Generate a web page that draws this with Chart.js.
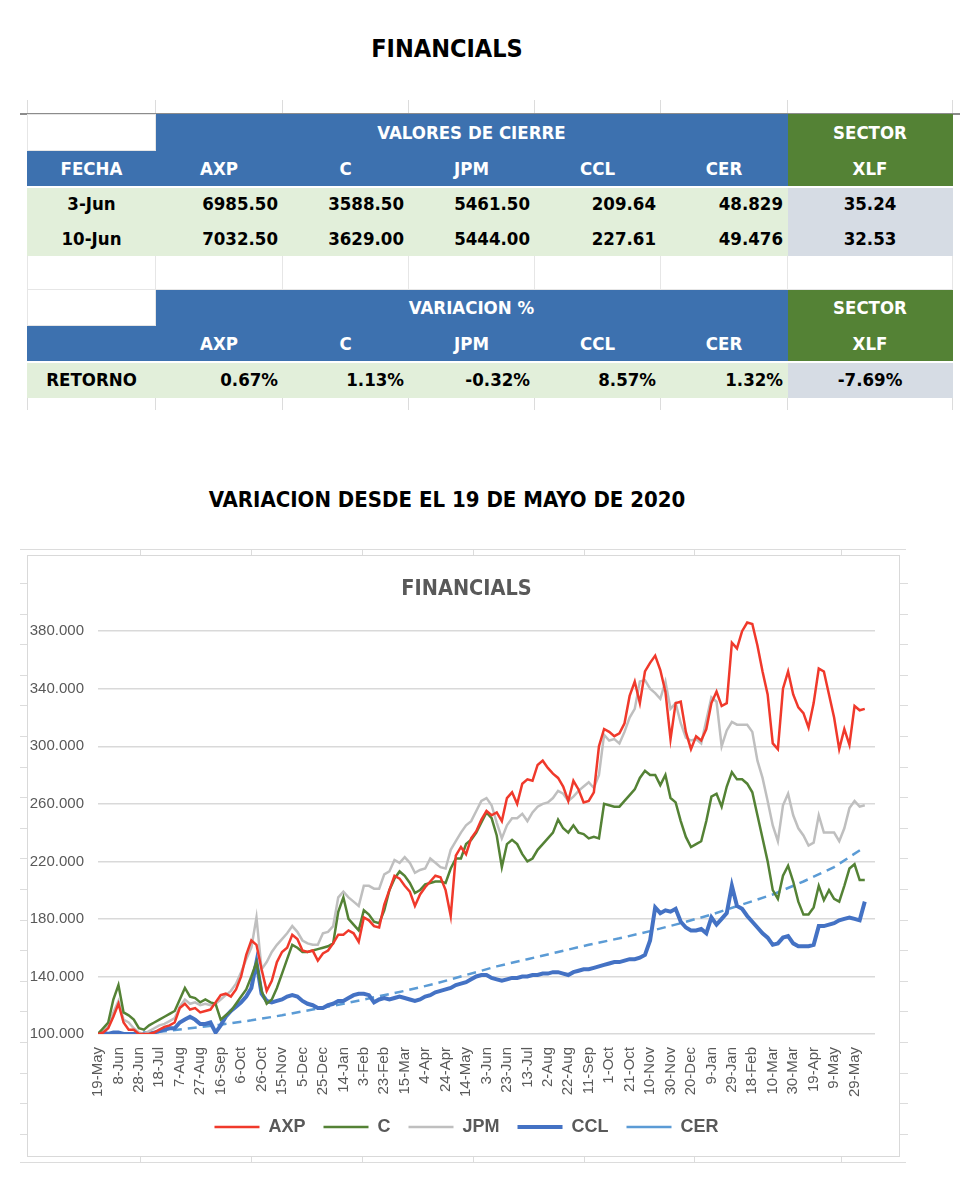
<!DOCTYPE html>
<html>
<head>
<meta charset="utf-8">
<script src="https://cdn.jsdelivr.net/npm/chart.js@4.4.1/dist/chart.umd.min.js"></script>
<style>
  body { margin: 0; background: #fff; width: 980px; height: 1203px; position: relative; overflow: hidden;
         font-family: 'DejaVu Sans Condensed', sans-serif; }
  .title { position: absolute; left: 0; width: 894px; text-align: center; font-weight: bold; color: #000; }
  #t1 { top: 34px; font-size: 25px; }
  #t2 { top: 487px; font-size: 22px; }
  #tbl { position: absolute; left: 27px; top: 114px; width: 925px; border-collapse: collapse; table-layout: fixed; }
  #tbl td { padding: 0 4px; font-weight: bold; font-size: 18.5px; white-space: nowrap; border: 1px solid #e6e6e6;
            text-align: center; color: #000; overflow: hidden; }
  #tbl td.hdr { background: #3d71af; color: #fff; border-color: #3d71af; }
  #tbl td.sec { background: #548235; color: #fff; border-color: #548235; }
  #tbl td.dat { background: #e2efda; border-color: #e2efda; }
  #tbl td.num { text-align: right; }
  #tbl td.xlf { background: #d6dce4; border-color: #d6dce4; }
  #tbl tr.sep td { border-bottom: 2px solid #fff; }
  #tbl td.blank { background: #fff; }
  .line { position: absolute; background: #dcdcdc; }
  #box { position: absolute; left: 27px; top: 555px; width: 873px; height: 602px; border: 1px solid #d9d9d9; box-sizing: border-box; }
  #wrap { position: absolute; left: 28px; top: 556px; width: 871px; height: 600px; }
</style>
</head>
<body>
<div id="t1" class="title">FINANCIALS</div>
<div class="line" style="left:20px;top:113px;width:940px;height:2px;background:#8c8c8c"></div>
<table id="tbl">
  <colgroup>
    <col style="width:128px"><col style="width:127px"><col style="width:126px"><col style="width:126px">
    <col style="width:126px"><col style="width:127px"><col style="width:165px">
  </colgroup>
  <tr style="height:36px"><td class="blank"></td><td class="hdr" colspan="5">VALORES DE CIERRE</td><td class="sec">SECTOR</td></tr>
  <tr style="height:36px" class="sep"><td class="hdr">FECHA</td><td class="hdr">AXP</td><td class="hdr">C</td><td class="hdr">JPM</td><td class="hdr">CCL</td><td class="hdr">CER</td><td class="sec">XLF</td></tr>
  <tr style="height:34px"><td class="dat">3-Jun</td><td class="dat num">6985.50</td><td class="dat num">3588.50</td><td class="dat num">5461.50</td><td class="dat num">209.64</td><td class="dat num">48.829</td><td class="xlf">35.24</td></tr>
  <tr style="height:35px"><td class="dat">10-Jun</td><td class="dat num">7032.50</td><td class="dat num">3629.00</td><td class="dat num">5444.00</td><td class="dat num">227.61</td><td class="dat num">49.476</td><td class="xlf">32.53</td></tr>
  <tr style="height:34px"><td class="blank"></td><td class="blank"></td><td class="blank"></td><td class="blank"></td><td class="blank"></td><td class="blank"></td><td class="blank"></td></tr>
  <tr style="height:36px"><td class="blank"></td><td class="hdr" colspan="5">VARIACION %</td><td class="sec">SECTOR</td></tr>
  <tr style="height:36px" class="sep"><td class="hdr"></td><td class="hdr">AXP</td><td class="hdr">C</td><td class="hdr">JPM</td><td class="hdr">CCL</td><td class="hdr">CER</td><td class="sec">XLF</td></tr>
  <tr style="height:36px"><td class="dat">RETORNO</td><td class="dat num">0.67%</td><td class="dat num">1.13%</td><td class="dat num">-0.32%</td><td class="dat num">8.57%</td><td class="dat num">1.32%</td><td class="xlf">-7.69%</td></tr>
</table>
<div id="t2" class="title">VARIACION DESDE EL 19 DE MAYO DE 2020</div>
<div id="box"></div>
<div id="wrap"><canvas id="chart"></canvas></div>
<script>
// Tick labels (one every 20 days from 19-May-2020)
const xTickLabels = ['19-May', '8-Jun', '28-Jun', '18-Jul', '7-Aug', '27-Aug', '16-Sep', '6-Oct', '26-Oct',
  '15-Nov', '5-Dec', '25-Dec', '14-Jan', '3-Feb', '23-Feb', '15-Mar', '4-Apr', '24-Apr', '14-May', '3-Jun',
  '23-Jun', '13-Jul', '2-Aug', '22-Aug', '11-Sep', '1-Oct', '21-Oct', '10-Nov', '30-Nov', '20-Dec', '9-Jan',
  '29-Jan', '18-Feb', '10-Mar', '30-Mar', '19-Apr', '9-May', '29-May'];
const yTicks = [100, 140, 180, 220, 260, 300, 340, 380];

// Index values (base 100), one reading every 5 days
const dayStep = 5;
const axp = [
  100, 101, 104, 112, 121, 108, 103, 103, 100, 100,
  100, 101, 103, 105, 106, 108, 118, 121, 117, 118,
  115, 116, 117, 122, 127, 128, 126, 131, 140, 155,
  165, 162, 145, 130, 137, 150, 157, 160, 169, 166,
  158, 157, 158, 151, 156, 158, 163, 169, 169, 172,
  170, 164, 181, 179, 175, 174, 190, 200, 210, 208,
  203, 199, 189, 197, 202, 206, 210, 209, 200, 182,
  224, 230, 225, 236, 241, 249, 255, 252, 254, 248,
  264, 268, 260, 274, 277, 276, 287, 290, 285, 281,
  278, 272, 262, 276, 270, 261, 262, 268, 300, 312,
  310, 307, 309, 316, 335, 345, 330, 352, 358, 363,
  353, 338, 305, 330, 331, 310, 298, 307, 304, 312,
  330, 338, 328, 330, 372, 368, 380, 386, 385, 370,
  352, 336, 302, 298, 340, 352, 336, 327, 323, 313,
  330, 354, 352, 336, 320, 298, 312, 301, 328, 325,
  326];
const c = [
  100, 104, 108, 124, 134, 115, 113, 110, 104, 103,
  106, 108, 110, 112, 114, 116, 124, 132, 126, 125,
  122, 124, 122, 121, 110, 113, 116, 121, 126, 131,
  140, 150, 130, 121, 124, 132, 142, 152, 162, 160,
  157, 157, 158, 159, 160, 161, 163, 185, 195, 180,
  176, 172, 186, 183, 178, 177, 186, 200, 208, 213,
  210, 205, 198, 200, 204, 205, 206, 206, 205, 215,
  222, 222, 232, 235, 240, 247, 254, 250, 238, 216,
  232, 235, 232, 225, 220, 222, 228, 232, 236, 240,
  249, 243, 240, 245, 240, 239, 236, 237, 236, 260,
  259, 258, 258, 262, 266, 270, 278, 283, 280, 280,
  273, 280, 264, 261, 248, 237, 230, 232, 234, 248,
  265, 267, 258, 272, 282, 277, 277, 274, 268, 252,
  236, 220, 200, 194, 210, 217, 206, 192, 183, 183,
  188, 203, 193, 200, 194, 192, 203, 215, 218, 207,
  207];
const jpm = [
  100, 103, 106, 115, 123, 110, 108, 104, 101, 100,
  102, 104, 106, 107, 109, 111, 119, 124, 121, 122,
  120, 121, 120, 121, 124, 127, 130, 135, 143, 152,
  160, 181, 145, 150, 157, 162, 166, 170, 175, 171,
  165, 163, 162, 162, 170, 171, 175, 195, 199, 195,
  192, 189, 203, 203, 201, 201, 211, 213, 221, 219,
  223, 219, 212, 214, 215, 222, 219, 216, 215, 228,
  234, 240, 245, 248, 255, 262, 264, 259, 247, 236,
  245, 250, 250, 253, 248, 254, 258, 260, 261, 264,
  269, 267, 262, 265, 269, 272, 275, 271, 280, 308,
  304, 305, 302, 310, 320, 326, 345, 346, 340, 337,
  333, 345, 326, 330, 316, 306, 304, 305, 302, 318,
  334, 331, 300, 311, 317, 315, 315, 315, 310, 290,
  278, 262, 245, 234, 259, 267, 252, 243, 238, 231,
  233, 252, 240, 240, 240, 234, 243, 257, 262, 258,
  259];
const ccl = [
  100, 101, 100, 101, 101, 100, 100, 100, 100, 100,
  100, 101, 102, 103, 104, 104, 108, 110, 112, 110,
  107, 107, 108, 101, 106, 112, 116, 119, 122, 126,
  132, 150, 128, 123, 122, 123, 124, 126, 127, 126,
  123, 121, 120, 118, 118, 120, 121, 123, 123, 125,
  127, 128, 128, 127, 122, 124, 125, 124, 125, 126,
  125, 124, 123, 124, 126, 127, 129, 130, 131, 132,
  134, 135, 136, 138, 140, 141, 141, 139, 138, 137,
  138, 139, 139, 140, 140, 141, 141, 142, 142, 143,
  143, 142, 141, 143, 144, 145, 145, 146, 147, 148,
  149, 150, 150, 151, 152, 152, 153, 155, 165, 188,
  184, 186, 185, 187, 178, 174, 172, 172, 173, 170,
  181, 176, 180, 184, 203, 189, 187, 182, 178, 174,
  170, 167, 162, 163, 167, 168, 163, 161, 161, 161,
  162, 175, 175, 176, 177, 179, 180, 181, 180, 179,
  192];
// CER is smooth, read every 30 days
const cerDays = [0, 30, 60, 90, 120, 150, 180, 210, 240, 270, 300, 330, 360, 390, 420, 450, 480, 510, 540,
  570, 600, 630, 660, 690, 720, 750];
const cer = [100, 100.5, 101.5, 104, 106.5, 109.5, 113, 117, 121, 125.5, 130, 135, 141, 147, 152, 157, 162,
  166.5, 171.5, 177, 183, 190, 197, 206, 216, 230];

const toPoints = (vals) => vals.map((v, i) => ({ x: i * dayStep, y: v }));

Chart.defaults.font.family = "'Liberation Sans', Arial, sans-serif";
Chart.defaults.color = '#595959';

const ctx = document.getElementById('chart').getContext('2d');
const chart = new Chart(ctx, {
    type: 'line',
    data: {
        datasets: [
            { label: 'AXP', data: toPoints(axp), borderColor: '#f0392b', backgroundColor: '#f0392b', borderWidth: 2.5 },
            { label: 'C', data: toPoints(c), borderColor: '#548235', backgroundColor: '#548235', borderWidth: 2.5 },
            { label: 'JPM', data: toPoints(jpm), borderColor: '#bfbfbf', backgroundColor: '#bfbfbf', borderWidth: 2.5 },
            { label: 'CCL', data: toPoints(ccl), borderColor: '#4472c4', backgroundColor: '#4472c4', borderWidth: 4 },
            { label: 'CER', data: cerDays.map((d, i) => ({ x: d, y: cer[i] })), borderColor: '#5b9bd5',
              backgroundColor: '#5b9bd5', borderWidth: 2.5, borderDash: [9, 6] }
        ]
    },
    options: {
        responsive: true,
        maintainAspectRatio: false,
        animation: false,
        elements: { point: { radius: 0 }, line: { tension: 0 } },
        // left padding centres title and legend like the reference; the y axis labels overhang into it
        layout: { padding: { left: 30, right: 24, top: 0, bottom: 10 } },
        plugins: {
            title: {
                display: true,
                text: 'FINANCIALS',
                color: '#595959',
                font: { family: "'DejaVu Sans Condensed', sans-serif", size: 21.5, weight: 'bold' },
                padding: { top: 21, bottom: 14 }
            },
            legend: {
                position: 'bottom',
                labels: {
                    usePointStyle: true,
                    pointStyle: 'line',
                    pointStyleWidth: 45,
                    padding: 18,
                    color: '#595959',
                    font: { size: 18, weight: 'bold' }
                }
            },
            tooltip: { enabled: false }
        },
        scales: {
            x: {
                type: 'linear',
                min: 0,
                max: 760,
                afterBuildTicks: (scale) => { scale.ticks = xTickLabels.map((_, i) => ({ value: i * 20 })); },
                afterFit: (scale) => { scale.height = 66; },
                grid: { display: false },
                border: { display: false },
                ticks: {
                    autoSkip: false,
                    minRotation: 90,
                    maxRotation: 90,
                    padding: 5,
                    color: '#595959',
                    font: { size: 15 },
                    callback: (value, index) => xTickLabels[index]
                }
            },
            y: {
                min: 100,
                max: 390,
                afterBuildTicks: (scale) => { scale.ticks = yTicks.map(v => ({ value: v })); },
                afterFit: (scale) => {
                    scale.width = 40;
                    // let the labels overhang the narrow axis box instead of being clipped
                    scale._computeLabelArea = () => null;
                },
                grid: { color: '#d9d9d9', lineWidth: 1.5, drawTicks: false },
                border: { display: false },
                ticks: {
                    padding: 14,
                    color: '#595959',
                    font: { size: 15 },
                    callback: (value) => value.toFixed(3)
                }
            }
        }
    }
});

// Faint spreadsheet gridlines peeking around the table and the chart box
function addLine(x, y, w, h) {
    const d = document.createElement('div');
    d.className = 'line';
    d.style.cssText = `left:${x}px;top:${y}px;width:${w}px;height:${h}px`;
    document.body.appendChild(d);
}
[27, 155, 282, 408, 534, 660, 787, 952].forEach(x => { addLine(x, 100, 1, 13); addLine(x, 398, 1, 12); });
addLine(20, 549, 886, 1);
addLine(20, 1162, 886, 1);
[140, 251, 362, 473, 584, 694, 841].forEach(x => { addLine(x, 549, 1, 6); addLine(x, 1157, 1, 6); });
for (let y = 583; y < 1150; y += 30.6) { addLine(20, Math.round(y), 7, 1); addLine(900, Math.round(y), 8, 1); }
</script>
</body>
</html>
